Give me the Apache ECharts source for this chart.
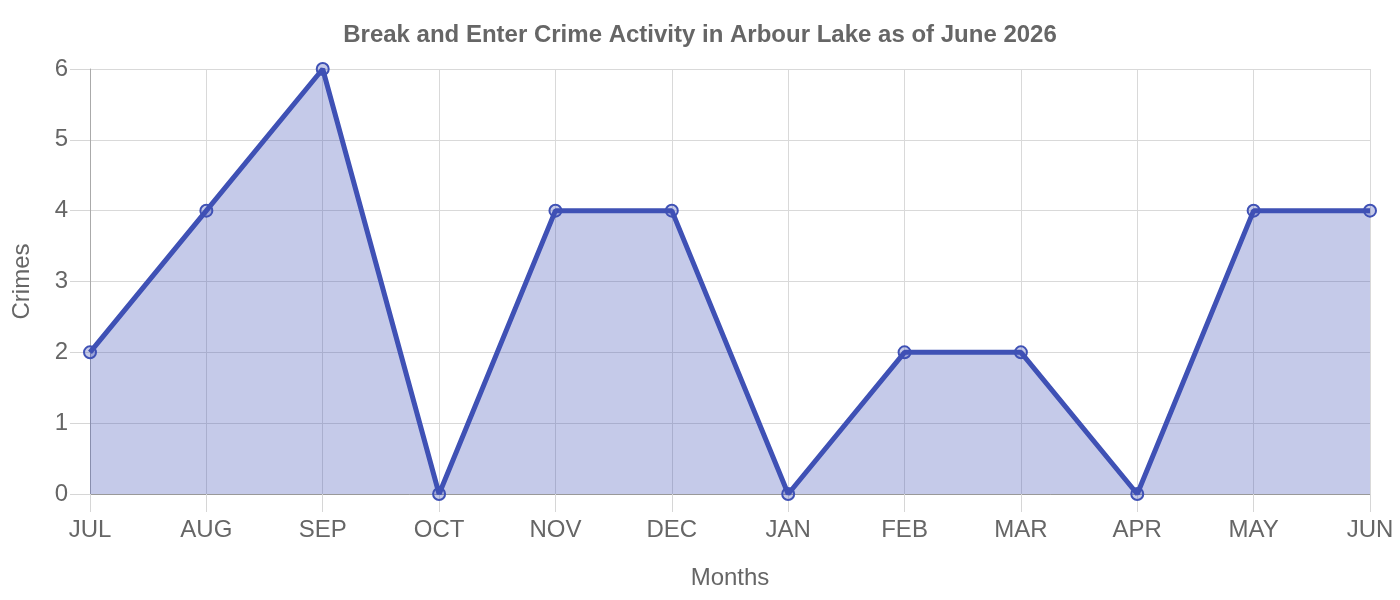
<!DOCTYPE html>
<html><head><meta charset="utf-8">
<script src="https://cdn.jsdelivr.net/npm/echarts@6/dist/echarts.min.js"></script>
<style>html,body{margin:0;padding:0;background:#fff}#c{width:1400px;height:600px}</style>
</head><body><div id="c"></div>
<script>
const titleText = 'Break and Enter Crime Activity in Arbour Lake as of June 2026';
const months = ['JUL','AUG','SEP','OCT','NOV','DEC','JAN','FEB','MAR','APR','MAY','JUN'];
const crimes = [2,4,6,0,4,4,0,2,2,0,4,4];
const yTicks = {min:0, max:6, interval:1};
const chart = echarts.init(document.getElementById('c'));
const font = '"Liberation Sans", Arial, sans-serif';
chart.setOption({
  animation:false,
  title:{text:titleText,left:'center',top:18,textStyle:{fontFamily:font,fontSize:24,fontWeight:'bold',color:'#666'}},
  grid:{left:90,right:30,top:69,bottom:106,containLabel:false},
  xAxis:{type:'category',data:months,boundaryGap:false,
    name:'Months',nameLocation:'middle',nameGap:72,nameTextStyle:{fontFamily:font,fontSize:24,color:'#666'},
    axisLine:{show:true,lineStyle:{color:'#999',width:1}},
    axisTick:{show:true,alignWithLabel:true,length:18,lineStyle:{color:'#d6d6d6'}},
    axisLabel:{fontFamily:font,fontSize:24,color:'#666',margin:24},
    splitLine:{show:true,lineStyle:{color:'#d9d9d9',width:1}}},
  yAxis:{type:'value',min:yTicks.min,max:yTicks.max,interval:yTicks.interval,
    name:'Crimes',nameLocation:'middle',nameGap:56,nameTextStyle:{fontFamily:font,fontSize:24,color:'#666'},
    axisLine:{show:true,lineStyle:{color:'#aaa',width:1}},
    axisTick:{show:true,length:20,lineStyle:{color:'#d6d6d6'}},
    axisLabel:{fontFamily:font,fontSize:24,color:'#666',margin:22},
    splitLine:{show:true,lineStyle:{color:'#d9d9d9',width:1}}},
  series:[{type:'line',data:crimes,symbol:'circle',symbolSize:12,
    lineStyle:{color:'#3f51b5',width:5},
    itemStyle:{color:'rgba(63,81,181,0.3)',borderColor:'#3f51b5',borderWidth:2},
    areaStyle:{color:'rgba(63,81,181,0.3)',opacity:1}}]
});
</script></body></html>
